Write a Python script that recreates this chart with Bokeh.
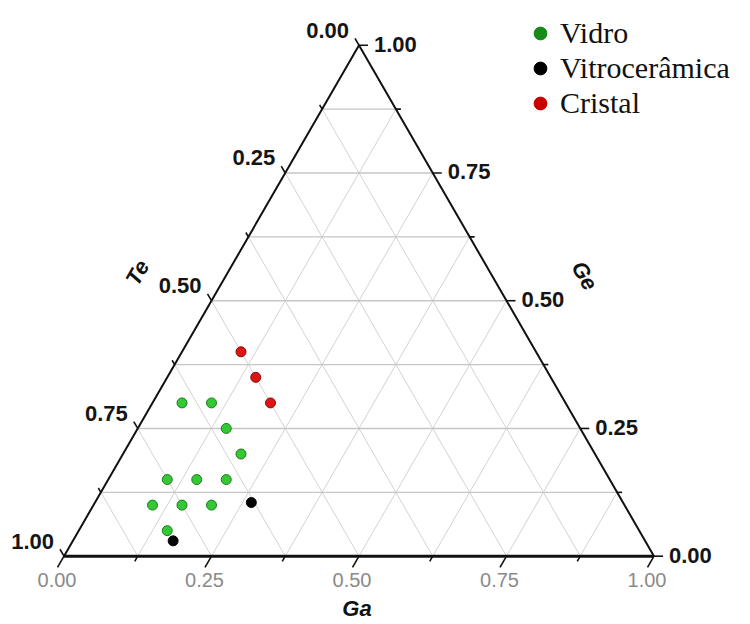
import numpy as np
from bokeh.plotting import figure
from bokeh.models import Range1d, Legend, LegendItem, ColumnDataSource
from bokeh.core.properties import value
from bokeh.embed import file_html
from bokeh.resources import INLINE

# ---------------- data (fractions: Ga, Ge ; Te = 1 - Ga - Ge) ----------------
vidro_ga = [0.05, 0.10, 0.15, 0.20, 0.10, 0.15, 0.20, 0.10, 0.15, 0.20, 0.15]
vidro_ge = [0.30, 0.30, 0.25, 0.20, 0.15, 0.15, 0.15, 0.10, 0.10, 0.10, 0.05]
vitro_ga = [0.265, 0.17]
vitro_ge = [0.105, 0.03]
cristal_ga = [0.10, 0.15, 0.20]
cristal_ge = [0.40, 0.35, 0.30]

major_ticks = [0.0, 0.25, 0.50, 0.75, 1.0]
major_labels = ["0.00", "0.25", "0.50", "0.75", "1.00"]
minor_ticks = [0.125, 0.375, 0.625, 0.875]
grid_vals = [0.125, 0.25, 0.375, 0.5, 0.625, 0.75, 0.875]
legend_labels = ["Vidro", "Vitrocerâmica", "Cristal"]
axis_titles = ["Te", "Ga", "Ge"]

H = np.sqrt(3) / 2
PX = 590.0  # pixels per unit side


def cart(ga, ge):
    ga = np.asarray(ga, dtype=float)
    ge = np.asarray(ge, dtype=float)
    return ga + 0.5 * ge, ge * H


W, HT = 748, 622
x0 = (0 - 63.5) / PX
y1 = (555.7 - 0) / PX
p = figure(width=W, height=HT, output_backend="svg", toolbar_location=None,
           x_range=Range1d(x0, x0 + W / PX), y_range=Range1d(y1 - HT / PX, y1),
           min_border=0, outline_line_color=None, x_axis_type=None, y_axis_type=None)
p.grid.visible = False
p.background_fill_color = "white"

# ---------------- grid ----------------
hx0, hy0, hx1, hy1 = [], [], [], []
sx0, sy0, sx1, sy1 = [], [], [], []
for v in grid_vals:
    a = cart(0, v); b = cart(1 - v, v)          # constant Ge (horizontal)
    hx0.append(a[0]); hy0.append(a[1]); hx1.append(b[0]); hy1.append(b[1])
    a = cart(v, 0); b = cart(v, 1 - v)          # constant Ga
    sx0.append(a[0]); sy0.append(a[1]); sx1.append(b[0]); sy1.append(b[1])
    a = cart(1 - v, 0); b = cart(0, 1 - v)      # constant Te
    sx0.append(a[0]); sy0.append(a[1]); sx1.append(b[0]); sy1.append(b[1])
p.segment(sx0, sy0, sx1, sy1, line_color="#d3d3d3", line_width=1)
p.segment(hx0, hy0, hx1, hy1, line_color="#c6c6c6", line_width=1.4)

# ---------------- triangle edges ----------------
bl = cart(0, 0); br = cart(1, 0); tp = cart(0, 1)
p.line([float(bl[0]), float(tp[0]), float(br[0])], [float(bl[1]), float(tp[1]), float(br[1])],
       line_color="#111111", line_width=2)
p.line([float(bl[0]), float(br[0])], [float(bl[1]), float(br[1])], line_color="#111111", line_width=3)

# ---------------- ticks ----------------
tx0, ty0, tx1, ty1 = [], [], [], []
for vals, Lb, Ll, Lr in [(major_ticks, 13, 8, 9), (minor_ticks, 6, 5, 5)]:
    for v in vals:
        # bottom (Ga)
        a = cart(v, 0)
        tx0.append(a[0]); ty0.append(a[1])
        tx1.append(a[0] - 0.5 * Lb / PX); ty1.append(a[1] - H * Lb / PX)
        # left (Te)
        a = cart(0, 1 - v)
        tx0.append(a[0]); ty0.append(a[1])
        tx1.append(a[0] - 0.5 * Ll / PX); ty1.append(a[1] + H * Ll / PX)
        # right (Ge)
        a = cart(1 - v, v)
        tx0.append(a[0]); ty0.append(a[1])
        tx1.append(a[0] + Lr / PX); ty1.append(a[1])
p.segment(tx0, ty0, tx1, ty1, line_color="#111111", line_width=1.6)

# ---------------- tick labels ----------------
mt = np.array(major_ticks)
lx, ly = cart(np.zeros_like(mt), 1 - mt)
p.text(x=lx, y=ly, text=major_labels, x_offset=-10, y_offset=-15, text_align="right",
       text_baseline="middle", text_font=value("Liberation Sans"), text_font_style="bold",
       text_font_size="22px", text_color="#151515")
rx, ry = cart(1 - mt, mt)
p.text(x=rx, y=ry, text=major_labels, x_offset=15, y_offset=-1, text_align="left",
       text_baseline="middle", text_font=value("Liberation Sans"), text_font_style="bold",
       text_font_size="22px", text_color="#151515")
bx, by = cart(mt, np.zeros_like(mt))
p.text(x=bx, y=by, text=major_labels, x_offset=-7, y_offset=24, text_align="center",
       text_baseline="middle", text_font=value("Liberation Sans"),
       text_font_size="20px", text_color="#8a8a8a")

# ---------------- axis titles ----------------
mte = cart(0, 0.5); mga = cart(0.5, 0); mge = cart(0.5, 0.5)
title_font = dict(text_font=value("Liberation Sans"), text_font_style="bold italic",
                  text_font_size="22px", text_color="#111111",
                  text_align="center", text_baseline="middle")
p.text(x=[float(mte[0])], y=[float(mte[1])], text=[axis_titles[0]], x_offset=-74, y_offset=-28,
       angle=np.pi / 3, **title_font)
p.text(x=[float(mga[0])], y=[float(mga[1])], text=[axis_titles[1]], x_offset=-2, y_offset=52,
       **title_font)
p.text(x=[float(mge[0])], y=[float(mge[1])], text=[axis_titles[2]], x_offset=78, y_offset=-25,
       angle=-np.pi / 3, **title_font)

# ---------------- data points ----------------
vx, vy = cart(vidro_ga, vidro_ge)
p.scatter(vx, vy, size=10, fill_color="#34c934", line_color="#1f7a1f", line_width=1)
cx, cy = cart(cristal_ga, cristal_ge)
p.scatter(cx, cy, size=10, fill_color="#dd1515", line_color="#8a0a0a", line_width=1)
kx, ky = cart(vitro_ga, vitro_ge)
p.scatter(kx, ky, size=10, fill_color="#050505", line_color="#000000", line_width=1)

# ---------------- legend ----------------
nan_src = ColumnDataSource(dict(x=[np.nan], y=[np.nan]))
lg_colors = ["#188a18", "#000000", "#c80000"]
lg_r = [p.scatter("x", "y", source=nan_src, size=10, fill_color=c, line_color=c)
        for c in lg_colors]
legend = Legend(items=[LegendItem(label=lab, renderers=[r]) for lab, r in zip(legend_labels, lg_r)],
                location=(524, HT - 120), orientation="vertical",
                label_text_font="Liberation Serif", label_text_font_size="30px",
                label_text_color="#111111",
                glyph_width=32, glyph_height=32, label_height=32, spacing=1,
                padding=0, margin=0, label_standoff=4,
                border_line_color=None, background_fill_alpha=0)
p.add_layout(legend, "center")

open("out.html", "w").write(file_html(p, INLINE))
